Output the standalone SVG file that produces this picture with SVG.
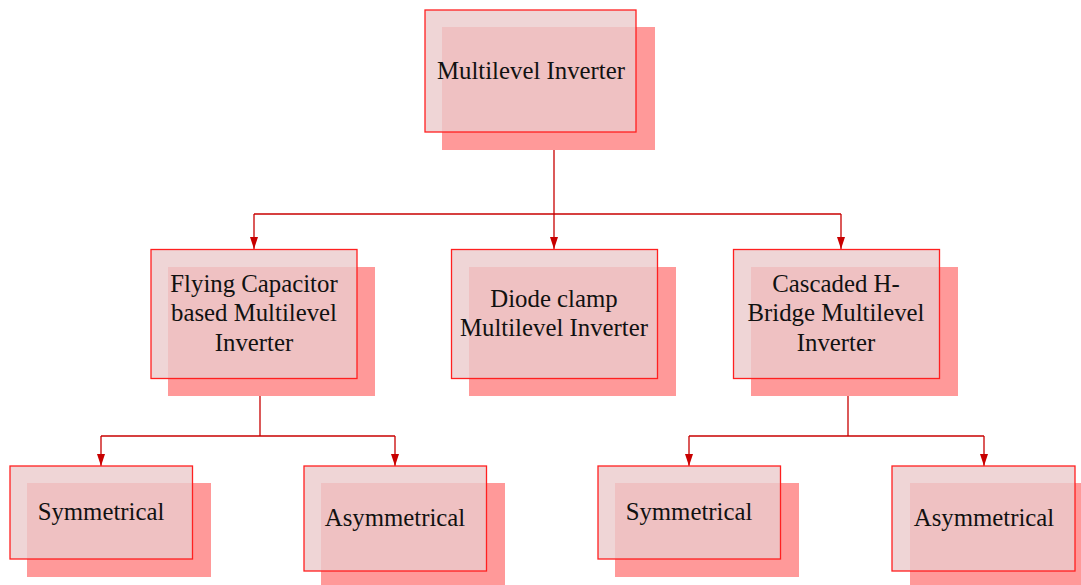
<svg xmlns="http://www.w3.org/2000/svg" width="1081" height="585" viewBox="0 0 1081 585">
  <style>
    .shadow { fill: #ff9999; }
    .box { fill: #ebcbcc; fill-opacity: 0.8; stroke: #ff2020; stroke-width: 1.3; }
    .label { font-family: "Liberation Serif", "Times New Roman", serif; font-size: 24.8px; fill: #111111; text-anchor: middle; }
    .wire { fill: none; stroke: #c80000; stroke-width: 1.3; }
  </style>
  <defs>
    <marker id="down" markerUnits="userSpaceOnUse" markerWidth="10" markerHeight="14" viewBox="0 0 10 14" refX="5" refY="13" orient="0">
      <path d="M1,1 L9,1 L5,13 Z" fill="#c80000"/>
    </marker>
  </defs>

  <!-- connectors -->
  <g id="connectors">
    <path class="wire" d="M554,150 V214"/>
    <path class="wire" d="M254,214 H841"/>
    <path class="wire" d="M254,214 V249" marker-end="url(#down)"/>
    <path class="wire" d="M554,214 V249" marker-end="url(#down)"/>
    <path class="wire" d="M841,214 V249" marker-end="url(#down)"/>

    <path class="wire" d="M260,396 V436"/>
    <path class="wire" d="M101,436 H395"/>
    <path class="wire" d="M101,436 V466" marker-end="url(#down)"/>
    <path class="wire" d="M395,436 V466" marker-end="url(#down)"/>

    <path class="wire" d="M848,396 V436"/>
    <path class="wire" d="M689,436 H984"/>
    <path class="wire" d="M689,436 V466" marker-end="url(#down)"/>
    <path class="wire" d="M984,436 V466" marker-end="url(#down)"/>
  </g>

  <!-- root -->
  <g id="node-multilevel-inverter">
    <rect class="shadow" x="442" y="27" width="213" height="123"/>
    <rect class="box" x="425" y="10" width="211" height="122"/>
    <text class="label" x="531" y="79">Multilevel Inverter</text>
  </g>

  <!-- second level -->
  <g id="node-flying-capacitor">
    <rect class="shadow" x="168" y="267" width="207" height="129"/>
    <rect class="box" x="151" y="249.5" width="206" height="129"/>
    <text class="label" x="254" y="292">Flying Capacitor</text>
    <text class="label" x="254" y="321">based Multilevel</text>
    <text class="label" x="254" y="351">Inverter</text>
  </g>

  <g id="node-diode-clamp">
    <rect class="shadow" x="469" y="267" width="207" height="129"/>
    <rect class="box" x="451.5" y="249.5" width="206" height="129"/>
    <text class="label" x="554" y="307">Diode clamp</text>
    <text class="label" x="554" y="336">Multilevel Inverter</text>
  </g>

  <g id="node-cascaded-h-bridge">
    <rect class="shadow" x="751" y="267" width="207" height="129"/>
    <rect class="box" x="733.5" y="249.5" width="206" height="129"/>
    <text class="label" x="836" y="292">Cascaded H-</text>
    <text class="label" x="836" y="321">Bridge Multilevel</text>
    <text class="label" x="836" y="351">Inverter</text>
  </g>

  <!-- third level, flying capacitor branch -->
  <g id="node-fc-symmetrical">
    <rect class="shadow" x="27" y="483" width="184" height="94"/>
    <rect class="box" x="10" y="466" width="182.5" height="93"/>
    <text class="label" x="101" y="520">Symmetrical</text>
  </g>

  <g id="node-fc-asymmetrical">
    <rect class="shadow" x="321" y="483" width="184" height="110"/>
    <rect class="box" x="304" y="466" width="182.5" height="105"/>
    <text class="label" x="395" y="526">Asymmetrical</text>
  </g>

  <!-- third level, cascaded H-bridge branch -->
  <g id="node-chb-symmetrical">
    <rect class="shadow" x="615" y="483" width="184" height="94"/>
    <rect class="box" x="598" y="466" width="182.5" height="93"/>
    <text class="label" x="689" y="520">Symmetrical</text>
  </g>

  <g id="node-chb-asymmetrical">
    <rect class="shadow" x="910" y="483" width="184" height="110"/>
    <rect class="box" x="892" y="466" width="183" height="105"/>
    <text class="label" x="984" y="526">Asymmetrical</text>
  </g>
</svg>
